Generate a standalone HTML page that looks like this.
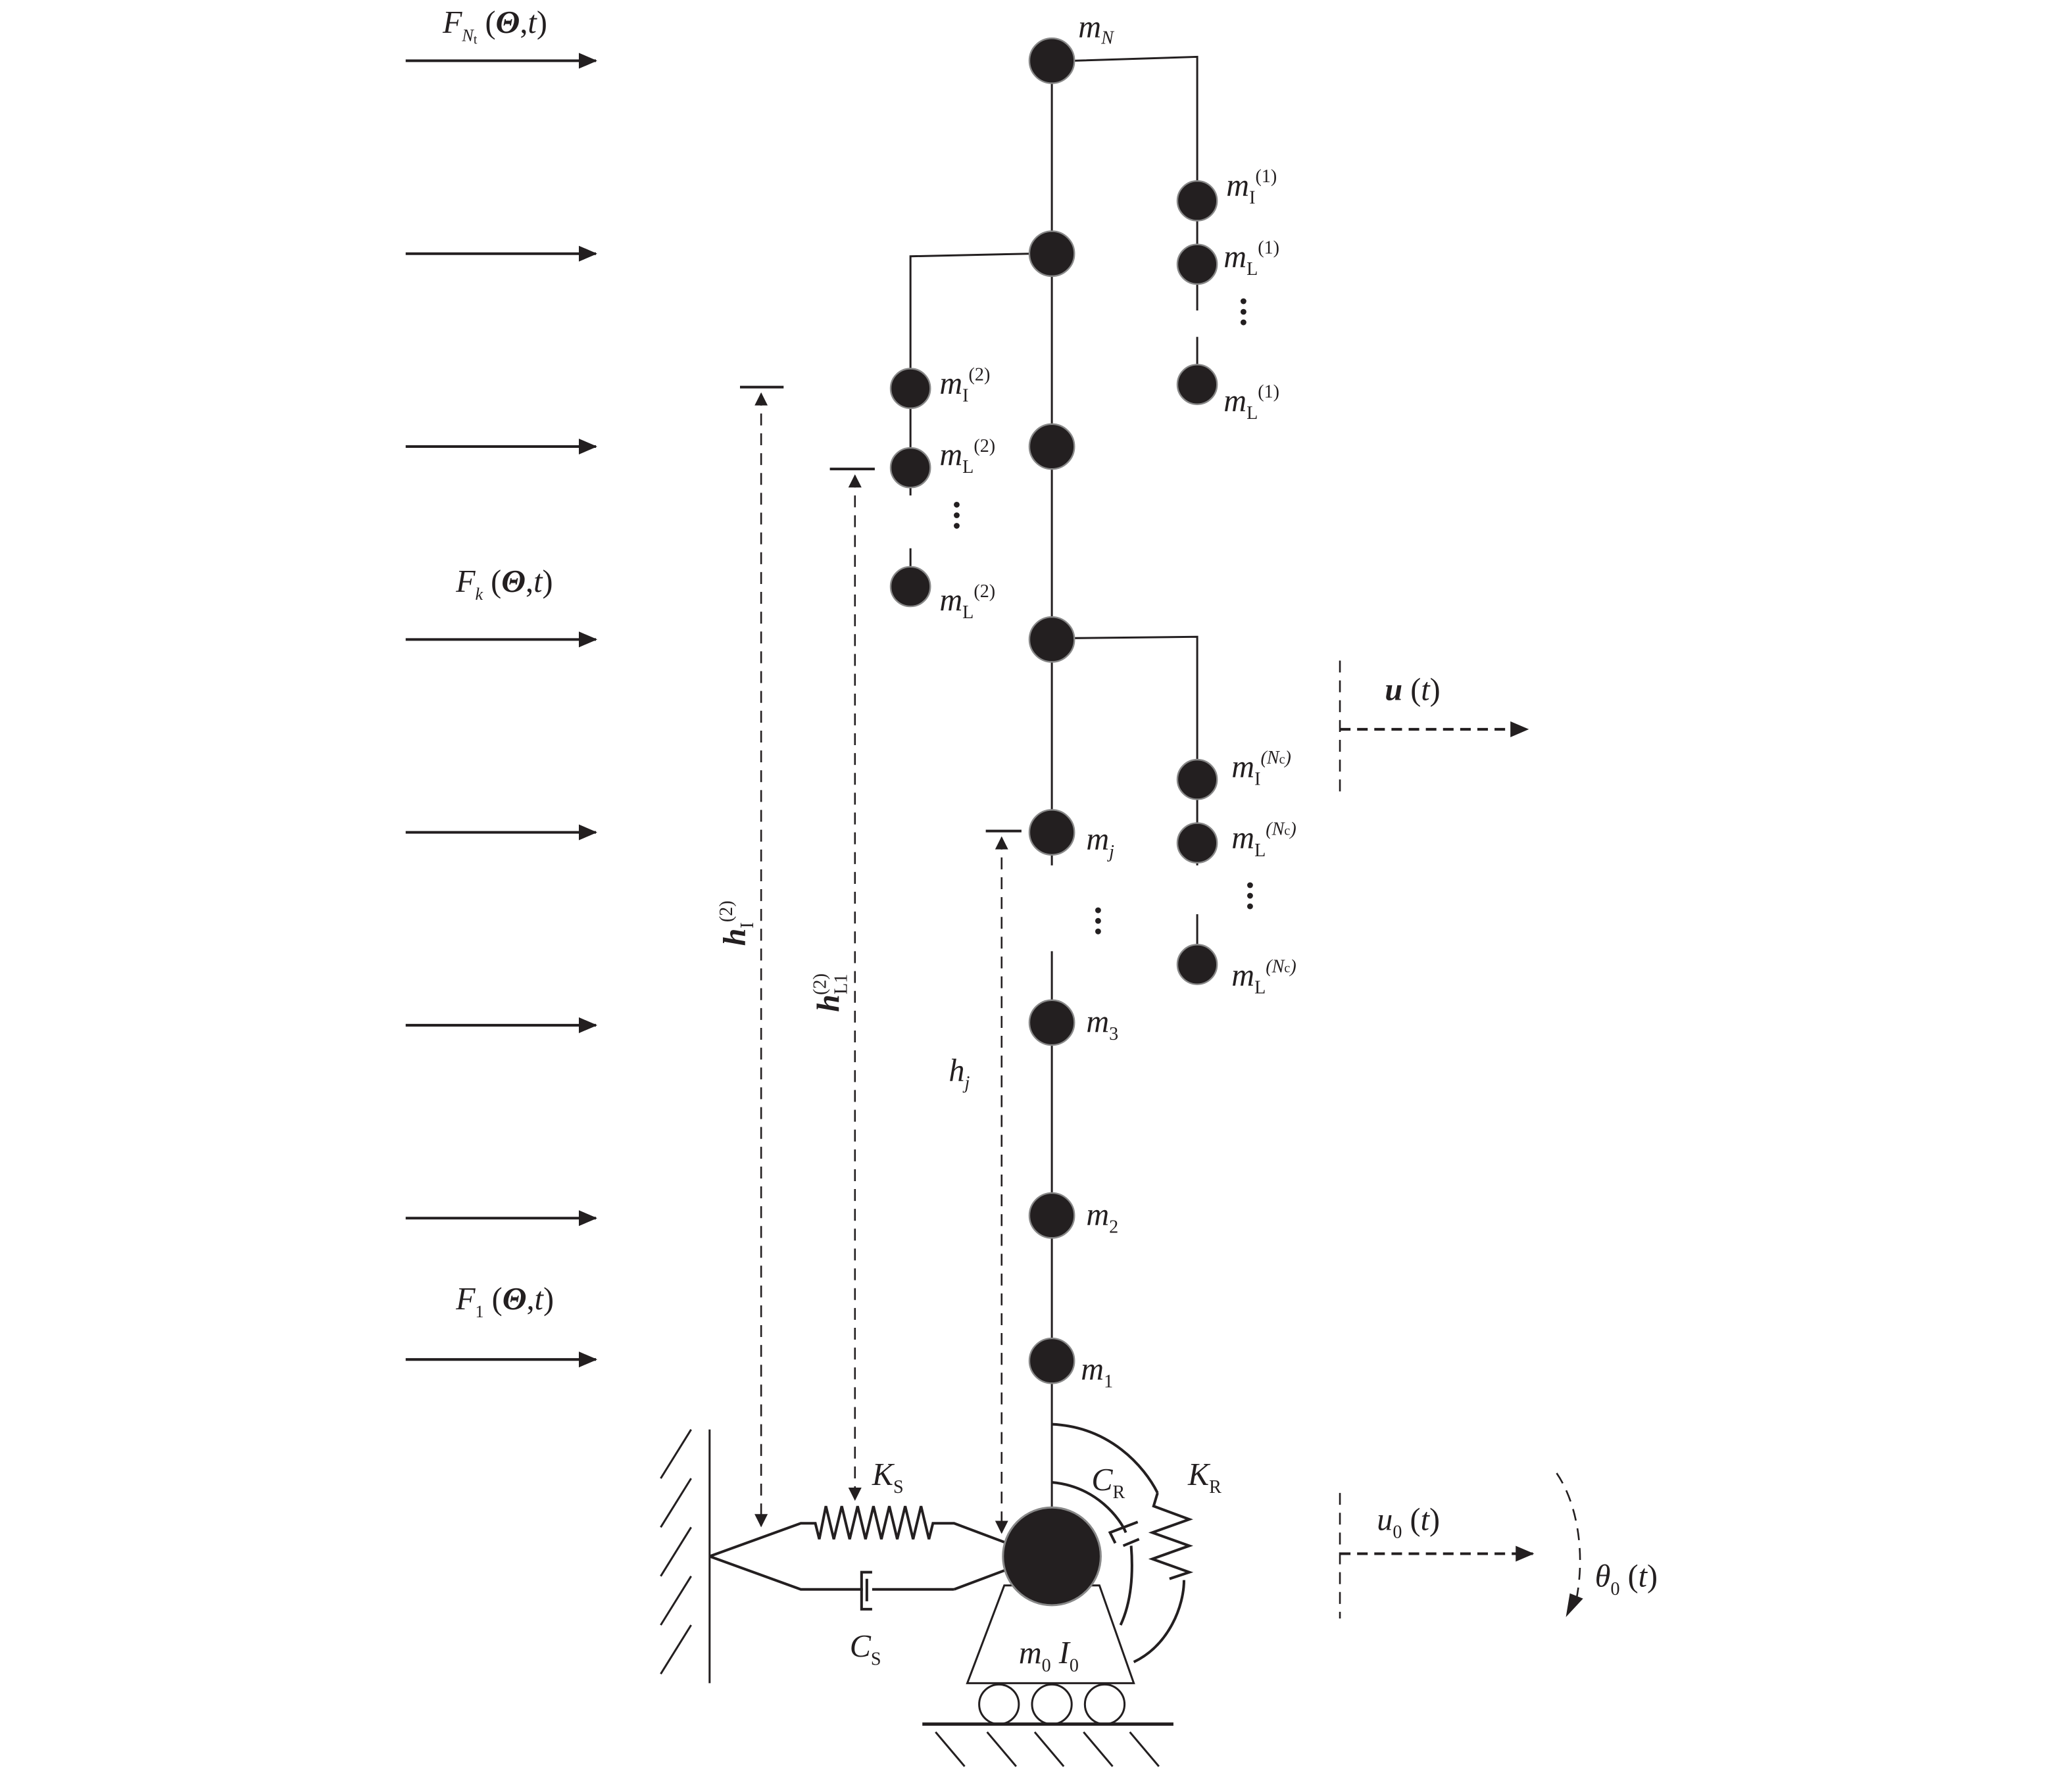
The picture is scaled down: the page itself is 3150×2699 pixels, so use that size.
<!DOCTYPE html>
<html><head><meta charset="utf-8"><style>
html,body{margin:0;padding:0;background:#fff}
svg{display:block}
text{font-family:"Liberation Serif",serif;font-style:italic;fill:#231f20}
.s{font-style:normal}
</style></head><body>
<svg width="3150" height="2699" viewBox="0 0 1568 1343.5" preserveAspectRatio="none" xmlns="http://www.w3.org/2000/svg">
<defs>
<marker id="ah" markerWidth="10" markerHeight="10" refX="9" refY="5" orient="auto-start-reverse" markerUnits="userSpaceOnUse"><path d="M0,0 L10,5 L0,10 z" fill="#231f20"/></marker>
<marker id="ahb" markerWidth="14" markerHeight="14" refX="13" refY="7" orient="auto" markerUnits="userSpaceOnUse"><path d="M0,1 L14,7 L0,13 z" fill="#231f20"/></marker>
</defs>
<g stroke="#231f20" fill="none">
<g stroke-width="2" marker-end="url(#ahb)">
<line x1="307" y1="46" x2="451" y2="46"/><line x1="307" y1="192" x2="451" y2="192"/>
<line x1="307" y1="338" x2="451" y2="338"/><line x1="307" y1="484" x2="451" y2="484"/>
<line x1="307" y1="630" x2="451" y2="630"/><line x1="307" y1="776" x2="451" y2="776"/>
<line x1="307" y1="922" x2="451" y2="922"/><line x1="307" y1="1029" x2="451" y2="1029"/>
</g>
<g stroke-width="1.5">
<line x1="796" y1="46" x2="796" y2="655"/><line x1="796" y1="720" x2="796" y2="1150"/>
<polyline points="812,46 906,43 906,235"/><line x1="906" y1="255" x2="906" y2="290"/>
<polyline points="780,192 689,194 689,375"/><line x1="689" y1="415" x2="689" y2="444"/>
<polyline points="812,483 906,482 906,655"/><line x1="906" y1="692" x2="906" y2="730"/>
</g>
<g stroke-width="1.3" stroke-dasharray="9,6" marker-start="url(#ah)" marker-end="url(#ah)">
<line x1="576" y1="298" x2="576" y2="1155"/>
<line x1="647" y1="360" x2="647" y2="1135"/>
<line x1="758" y1="634" x2="758" y2="1160"/>
</g>
<g stroke-width="2"><line x1="560" y1="293" x2="593" y2="293"/><line x1="628" y1="355" x2="662" y2="355"/><line x1="746" y1="629" x2="773" y2="629"/></g>
<line x1="537" y1="1082" x2="537" y2="1274" stroke-width="1.5"/>
<g stroke-width="1.5">
<line x1="500" y1="1119" x2="523" y2="1082"/><line x1="500" y1="1156" x2="523" y2="1119"/>
<line x1="500" y1="1193" x2="523" y2="1156"/><line x1="500" y1="1230" x2="523" y2="1193"/>
<line x1="500" y1="1267" x2="523" y2="1230"/>
</g>
<g stroke-width="2">
<polyline points="537,1178 606,1153 617,1153 620,1165 625,1140 631,1165 637,1140 643,1165 649,1140 655,1165 661,1140 667,1165 673,1140 679,1165 685,1140 691,1165 697,1140 703,1165 706,1153 722,1153 762,1168"/>
<polyline points="537,1178 606,1203 653,1203"/>
<line x1="660" y1="1203" x2="722" y2="1203"/><polyline points="722,1203 762,1188"/>
<polyline points="660,1190 652,1190 652,1218 660,1218"/>
<line x1="656" y1="1195" x2="656" y2="1212"/>
</g>
<g stroke-width="2">
<path d="M796,1078 C840,1080 866,1110 876,1130"/>
<polyline points="876,1130 873,1140 900,1150 872,1160 900,1170 872,1180 900,1190 885,1195"/>
<path d="M896,1196 C896,1215 885,1245 858,1258"/>
<path d="M796,1122 C830,1125 848,1150 852,1160"/>
<path d="M856,1170 C858,1195 855,1215 848,1230"/>
<polyline points="861,1152 840,1160 844,1168"/><line x1="850" y1="1170" x2="862" y2="1165"/>
</g>
<polygon points="760,1200 832,1200 858,1274 732,1274" stroke-width="1.5" fill="#fff"/>
<circle cx="796" cy="1178" r="37" fill="#231f20" stroke="#888" stroke-width="1.5"/>
<g stroke-width="1.5"><circle cx="756" cy="1290" r="15"/><circle cx="796" cy="1290" r="15"/><circle cx="836" cy="1290" r="15"/></g>
<line x1="698" y1="1305" x2="888" y2="1305" stroke-width="2.5"/>
<g stroke-width="1.5">
<line x1="708" y1="1311" x2="730" y2="1337"/><line x1="747" y1="1311" x2="769" y2="1337"/>
<line x1="783" y1="1311" x2="805" y2="1337"/><line x1="820" y1="1311" x2="842" y2="1337"/>
<line x1="855" y1="1311" x2="877" y2="1337"/>
</g>
<g stroke-width="1.3" stroke-dasharray="9,6">
<line x1="1014" y1="500" x2="1014" y2="602"/><line x1="1014" y1="1130" x2="1014" y2="1225"/>
<path d="M1178,1115 C1195,1140 1200,1180 1192,1215"/>
</g>
<g stroke-width="2" stroke-dasharray="8,5">
<line x1="1014" y1="552" x2="1156" y2="552" marker-end="url(#ahb)"/>
<line x1="1014" y1="1176" x2="1160" y2="1176" marker-end="url(#ahb)"/>
</g>
<path d="M1185,1224 L1188,1206 L1198,1210 z" fill="#231f20" stroke="none"/>
</g>
<g fill="#231f20" stroke="#888" stroke-width="1.2">
<circle cx="796" cy="46" r="17"/><circle cx="796" cy="192" r="17"/><circle cx="796" cy="338" r="17"/>
<circle cx="796" cy="484" r="17"/><circle cx="796" cy="630" r="17"/><circle cx="796" cy="774" r="17"/>
<circle cx="796" cy="920" r="17"/><circle cx="796" cy="1030" r="17"/>
<circle cx="906" cy="152" r="15"/><circle cx="906" cy="200" r="15"/><circle cx="906" cy="291" r="15"/>
<circle cx="689" cy="294" r="15"/><circle cx="689" cy="354" r="15"/><circle cx="689" cy="444" r="15"/>
<circle cx="906" cy="590" r="15"/><circle cx="906" cy="638" r="15"/><circle cx="906" cy="730" r="15"/>
</g>
<g fill="#231f20">
<circle cx="941" cy="228" r="2.2"/><circle cx="941" cy="236" r="2.2"/><circle cx="941" cy="244" r="2.2"/>
<circle cx="724" cy="382" r="2.2"/><circle cx="724" cy="390" r="2.2"/><circle cx="724" cy="398" r="2.2"/>
<circle cx="946" cy="670" r="2.2"/><circle cx="946" cy="678" r="2.2"/><circle cx="946" cy="686" r="2.2"/>
<circle cx="831" cy="689" r="2.2"/><circle cx="831" cy="697" r="2.2"/><circle cx="831" cy="705" r="2.2"/>
</g>
<g font-size="24">
<text x="335" y="25">F<tspan font-size="13" dy="6">N</tspan><tspan class="s" font-size="10" dy="2">t</tspan><tspan class="s" dy="-8"> (</tspan><tspan font-weight="bold">Θ</tspan><tspan class="s">,</tspan>t<tspan class="s">)</tspan></text>
<text x="345" y="448">F<tspan font-size="13" dy="6">k</tspan><tspan class="s" dy="-6"> (</tspan><tspan font-weight="bold">Θ</tspan><tspan class="s">,</tspan>t<tspan class="s">)</tspan></text>
<text x="345" y="991">F<tspan class="s" font-size="13" dy="6">1</tspan><tspan class="s" dy="-6"> (</tspan><tspan font-weight="bold">Θ</tspan><tspan class="s">,</tspan>t<tspan class="s">)</tspan></text>
<text x="816" y="28">m<tspan font-size="14" dy="5">N</tspan></text>
<text x="822" y="643">m<tspan font-size="14" dy="6">j</tspan></text>
<text x="822" y="781">m<tspan class="s" font-size="14" dy="6">3</tspan></text>
<text x="822" y="927">m<tspan class="s" font-size="14" dy="6">2</tspan></text>
<text x="818" y="1044">m<tspan class="s" font-size="14" dy="6">1</tspan></text>
<text x="928" y="148">m<tspan class="s" font-size="14" dy="6">I</tspan><tspan class="s" font-size="14" dy="-16">(1)</tspan></text>
<text x="926" y="202">m<tspan class="s" font-size="14" dy="6">L</tspan><tspan class="s" font-size="14" dy="-16">(1)</tspan></text>
<text x="926" y="311">m<tspan class="s" font-size="14" dy="6">L</tspan><tspan class="s" font-size="14" dy="-16">(1)</tspan></text>
<text x="711" y="298">m<tspan class="s" font-size="14" dy="6">I</tspan><tspan class="s" font-size="14" dy="-16">(2)</tspan></text>
<text x="711" y="352">m<tspan class="s" font-size="14" dy="6">L</tspan><tspan class="s" font-size="14" dy="-16">(2)</tspan></text>
<text x="711" y="462">m<tspan class="s" font-size="14" dy="6">L</tspan><tspan class="s" font-size="14" dy="-16">(2)</tspan></text>
<text x="932" y="588">m<tspan class="s" font-size="14" dy="6">I</tspan><tspan font-size="14" dy="-16">(N<tspan class="s" font-size="10">c</tspan>)</tspan></text>
<text x="932" y="642">m<tspan class="s" font-size="14" dy="6">L</tspan><tspan font-size="14" dy="-16">(N<tspan class="s" font-size="10">c</tspan>)</tspan></text>
<text x="932" y="746">m<tspan class="s" font-size="14" dy="6">L</tspan><tspan font-size="14" dy="-16">(N<tspan class="s" font-size="10">c</tspan>)</tspan></text>
<text x="718" y="818">h<tspan font-size="14" dy="6">j</tspan></text>
<text transform="translate(564,716) rotate(-90)" font-weight="bold">h<tspan class="s" font-size="14" dy="6" font-weight="normal">I</tspan><tspan class="s" font-size="14" dy="-16" font-weight="normal">(2)</tspan></text>
<text transform="translate(635,766) rotate(-90)" font-weight="bold">h<tspan class="s" font-size="14" dy="6" font-weight="normal">L1</tspan><tspan class="s" font-size="14" dx="-16" dy="-16" font-weight="normal">(2)</tspan></text>
<text x="1048" y="530"><tspan font-weight="bold">u</tspan><tspan class="s"> (</tspan>t<tspan class="s">)</tspan></text>
<text x="1042" y="1158">u<tspan class="s" font-size="14" dy="6">0</tspan><tspan class="s" dy="-6"> (</tspan>t<tspan class="s">)</tspan></text>
<text x="1207" y="1201">θ<tspan class="s" font-size="14" dy="6">0</tspan><tspan class="s" dy="-6"> (</tspan>t<tspan class="s">)</tspan></text>
<text x="660" y="1124">K<tspan class="s" font-size="14" dy="6">S</tspan></text>
<text x="643" y="1254">C<tspan class="s" font-size="14" dy="6">S</tspan></text>
<text x="826" y="1128">C<tspan class="s" font-size="14" dy="6">R</tspan></text>
<text x="899" y="1124">K<tspan class="s" font-size="14" dy="6">R</tspan></text>
<text x="771" y="1259">m<tspan class="s" font-size="14" dy="6">0</tspan><tspan dy="-6"> I</tspan><tspan class="s" font-size="14" dy="6">0</tspan></text>
</g>
</svg>
</body></html>
